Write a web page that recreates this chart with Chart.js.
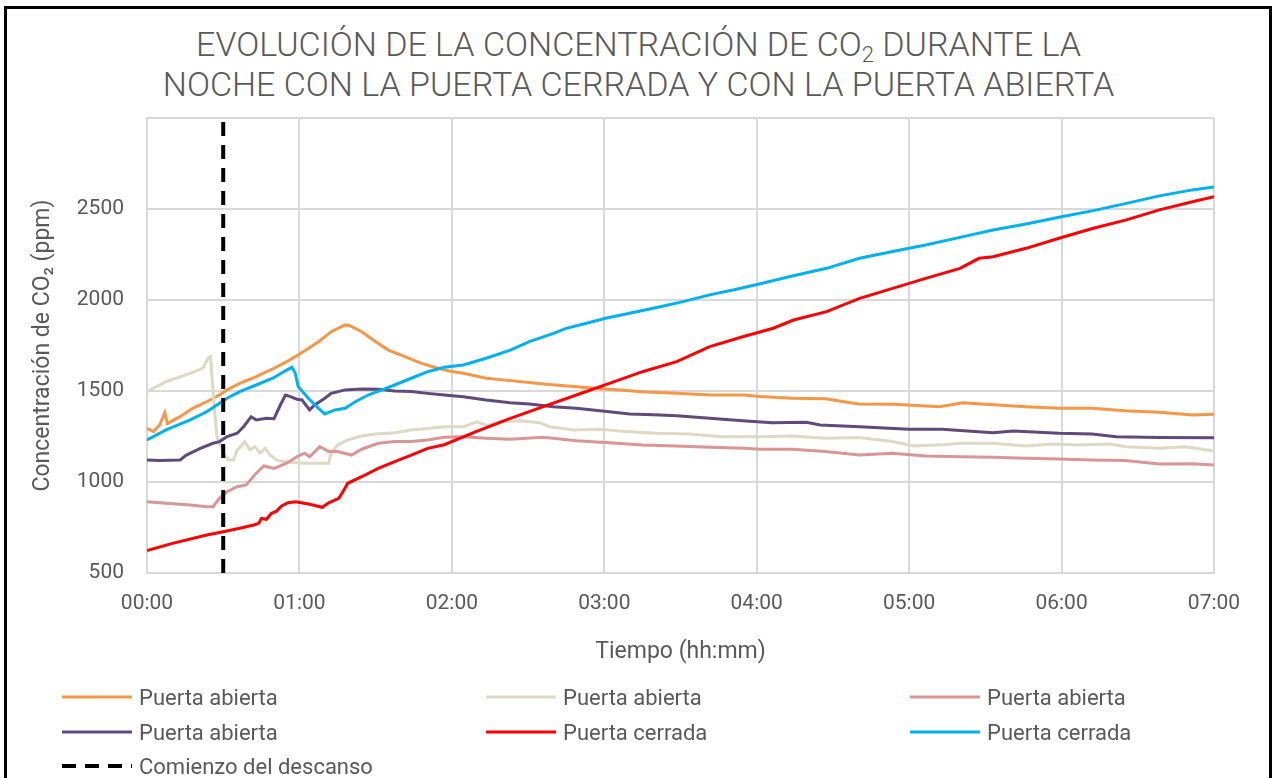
<!DOCTYPE html>
<html lang="es">
<head>
<meta charset="UTF-8">
<title>Evolución de la concentración de CO2</title>
<script src="https://cdn.jsdelivr.net/npm/chart.js"></script>
<style>
  body {
    margin: 0;
    width: 1277px;
    height: 778px;
    overflow: hidden;
    background: #fff;
    font-family: Roboto, 'Noto Sans', sans-serif;
    color: #595959;
    position: relative;
  }
  .frame {
    position: absolute;
    left: 4px;
    top: 6px;
    width: 1268px;
    height: 820px;
    border: 3px solid #000;
    box-sizing: border-box;
  }
  .title {
    position: absolute;
    left: 0;
    top: 24px;
    width: 1277px;
    text-align: center;
    font-size: 34px;
    font-weight: 300;
    line-height: 40px;
  }
  .title sub {
    font-size: 22px;
    line-height: 0;
    vertical-align: -6px;
  }
  .chart-box {
    position: absolute;
    left: 0;
    top: 0;
    width: 1277px;
    height: 680px;
  }
  #legend {
    position: absolute;
    left: 0;
    top: 0;
    width: 1277px;
    height: 778px;
    pointer-events: none;
  }
  .item {
    position: absolute;
    height: 30px;
    display: flex;
    align-items: center;
    font-size: 22px;
    white-space: nowrap;
  }
  .item svg { margin-right: 7px; }
</style>
</head>
<body>

<div class="frame"></div>
<div class="title">EVOLUCIÓN DE LA CONCENTRACIÓN DE CO<sub>2</sub> DURANTE LA<br>NOCHE CON LA PUERTA CERRADA Y CON LA PUERTA ABIERTA</div>
<div class="chart-box"><canvas id="co2Chart" width="1277" height="680"></canvas></div>
<div id="legend"></div>

<script>
  // tiempo en minutos desde las 00:00, concentración en ppm
  const tAbierta1 = [0, 2.5, 5, 7, 8, 13, 18, 23.5, 28.5, 31.5, 36.5, 43, 50, 55, 62, 67.5, 72.5, 78, 80, 84.5, 90, 95, 101.5, 108, 114.5, 119, 124.5, 133.5, 143, 156, 169, 182, 195, 208, 222, 235, 241, 254, 267, 280, 294, 312, 321, 333, 346, 359, 372, 385, 398.5, 411.5, 420];
  const co2Abierta1 = [1295, 1277, 1313, 1381, 1322, 1359, 1405, 1441, 1478, 1506, 1542, 1579, 1625, 1661, 1720, 1771, 1826, 1863, 1858, 1826, 1771, 1725, 1689, 1652, 1625, 1610, 1597, 1570, 1557, 1539, 1524, 1510, 1496, 1487, 1478, 1478, 1470, 1460, 1458, 1429, 1427, 1414, 1436, 1425, 1414, 1405, 1405, 1392, 1383, 1368, 1372];

  const tAbierta2 = [0, 7.5, 17, 22, 24, 25, 26.5, 27.5, 28.5, 30.5, 32, 34, 35.5, 36.5, 38.5, 40.5, 42.5, 44.5, 46.5, 48.5, 51, 53.5, 57.5, 62, 71.5, 72.5, 75, 79, 84.5, 90, 97.5, 104, 110.5, 117, 124.5, 130, 134, 139, 147, 154.5, 158.5, 168, 178, 188.5, 200, 213.5, 226.5, 241, 254, 267, 280, 293.5, 301.5, 313, 320, 333, 346, 356.5, 366, 379, 385.5, 398.5, 409, 420];
  const co2Abierta2 = [1496, 1551, 1597, 1625, 1680, 1690, 1414, 1249, 1216, 1148, 1121, 1121, 1176, 1190, 1221, 1176, 1194, 1158, 1185, 1148, 1121, 1112, 1107, 1103, 1103, 1158, 1203, 1231, 1253, 1264, 1271, 1286, 1294, 1304, 1304, 1331, 1310, 1331, 1337, 1326, 1304, 1286, 1290, 1277, 1268, 1264, 1249, 1249, 1253, 1240, 1245, 1222, 1198, 1204, 1213, 1213, 1198, 1209, 1203, 1209, 1194, 1185, 1194, 1170];

  const tAbierta3 = [0, 7.5, 17, 23.5, 26, 28.5, 31.5, 35.5, 39, 43, 46, 50, 55, 59, 62, 64, 68, 71.5, 75, 80.5, 84.5, 91, 97.5, 104, 110.5, 117, 124.5, 133.5, 143, 156, 169, 182, 195, 208, 222, 235, 241, 254, 267, 280.5, 293.5, 306.5, 320, 333, 346, 359, 372, 385, 398.5, 411.5, 420];
  const co2Abierta3 = [892, 883, 874, 864, 864, 910, 947, 974, 984, 1048, 1088, 1075, 1103, 1139, 1158, 1139, 1194, 1167, 1167, 1148, 1180, 1213, 1222, 1222, 1231, 1246, 1249, 1240, 1235, 1246, 1227, 1216, 1203, 1198, 1191, 1185, 1180, 1180, 1167, 1148, 1158, 1143, 1139, 1136, 1130, 1127, 1121, 1118, 1099, 1100, 1094];

  const tAbierta4 = [0, 5, 13, 15.5, 21, 26, 28.5, 31.5, 35.5, 38, 41, 43, 47, 50, 52.5, 54.5, 56.5, 59, 61, 64, 66, 70, 72.5, 78, 84.5, 91, 97.5, 104, 110.5, 117, 124.5, 133.5, 143, 150.5, 160, 169, 182, 190, 202, 208.5, 221.5, 234.5, 246, 259.5, 265, 280.5, 300, 313, 333, 341, 359, 372, 381.5, 398.5, 420];
  const co2Abierta4 = [1121, 1118, 1121, 1148, 1185, 1213, 1222, 1249, 1268, 1304, 1359, 1341, 1350, 1348, 1423, 1478, 1469, 1455, 1451, 1396, 1423, 1460, 1487, 1506, 1511, 1509, 1500, 1497, 1487, 1478, 1469, 1451, 1436, 1429, 1414, 1405, 1386, 1374, 1368, 1364, 1350, 1337, 1326, 1328, 1313, 1304, 1290, 1290, 1271, 1280, 1268, 1264, 1249, 1245, 1243];

  const tCerrada1 = [0, 10, 23.5, 30, 36.5, 42, 44, 45, 47, 49, 51, 53, 55.5, 58.5, 63.5, 69, 71.5, 75.5, 77.5, 79, 84.5, 91, 97.5, 104, 110.5, 117, 129.5, 143, 156, 169, 182, 195, 208.5, 221.5, 234.5, 246.5, 254.5, 267.5, 280.5, 293.5, 306.5, 320, 327.5, 333, 346, 359, 372.5, 385.5, 398.5, 411.5, 420];
  const co2Cerrada1 = [623, 663, 709, 727, 746, 764, 773, 800, 795, 828, 840, 868, 886, 892, 879, 861, 886, 910, 956, 993, 1029, 1075, 1112, 1148, 1185, 1205, 1277, 1350, 1414, 1478, 1542, 1606, 1661, 1744, 1798, 1845, 1890, 1936, 2009, 2064, 2119, 2174, 2229, 2238, 2284, 2339, 2394, 2440, 2495, 2540, 2568];

  const tCerrada2 = [0, 7.5, 17, 23.5, 28.5, 31.5, 36.5, 43, 49.5, 55, 57, 58.3, 59.5, 63.5, 67.5, 70, 74, 78, 82, 87, 92.5, 97.5, 104, 110.5, 117, 124.5, 133.5, 143, 150.5, 160, 165, 173, 180.5, 190, 202, 211, 221.5, 232, 241, 254, 267.5, 280.5, 293.5, 306.5, 320, 333, 346, 359, 372.5, 385.5, 398.5, 411.5, 420];
  const co2Cerrada2 = [1231, 1286, 1341, 1386, 1432, 1460, 1496, 1533, 1570, 1615, 1630, 1600, 1524, 1460, 1405, 1374, 1396, 1405, 1441, 1478, 1506, 1533, 1570, 1606, 1630, 1643, 1680, 1725, 1771, 1817, 1844, 1872, 1900, 1927, 1963, 1991, 2028, 2059, 2088, 2132, 2174, 2229, 2266, 2302, 2344, 2385, 2418, 2455, 2491, 2531, 2572, 2605, 2621];

  // comienzo del descanso (00:30)
  const tDescanso = [30, 30];
  const co2Descanso = [500, 3000];

  const xTicks = [0, 60, 120, 180, 240, 300, 360, 420];
  const yTicks = [500, 1000, 1500, 2000, 2500];

  function pts(t, v) {
    return t.map((x, i) => ({ x: x, y: v[i] }));
  }

  function hhmm(min) {
    const h = Math.floor(min / 60), m = Math.round(min % 60);
    return String(h).padStart(2, '0') + ':' + String(m).padStart(2, '0');
  }

  const series = [
    { label: 'Puerta abierta', data: pts(tAbierta1, co2Abierta1), color: '#F79646' },
    { label: 'Puerta abierta', data: pts(tAbierta2, co2Abierta2), color: '#DDD9C4' },
    { label: 'Puerta abierta', data: pts(tAbierta3, co2Abierta3), color: '#DA9694' },
    { label: 'Puerta abierta', data: pts(tAbierta4, co2Abierta4), color: '#604A7B' },
    { label: 'Puerta cerrada', data: pts(tCerrada1, co2Cerrada1), color: '#FF0000' },
    { label: 'Puerta cerrada', data: pts(tCerrada2, co2Cerrada2), color: '#00B0F0' },
    { label: 'Comienzo del descanso', data: pts(tDescanso, co2Descanso), color: '#000000', dash: [14, 9], width: 4 }
  ];

  const datasets = series.map((s, i) => ({
    label: s.label,
    data: s.data,
    borderColor: s.color,
    backgroundColor: s.color,
    borderWidth: s.width || 3,
    borderDash: s.dash || [],
    pointRadius: 0,
    tension: 0,
    fill: false,
    order: series.length - i   // como en Excel: la última serie queda encima
  }));

  const tickFont = { family: 'Roboto', size: 21 };
  const titleFont = { family: 'Roboto', size: 23 };

  const chart = new Chart(document.getElementById('co2Chart'), {
    type: 'line',
    data: { datasets: datasets },
    options: {
      responsive: false,
      animation: false,
      layout: { padding: { top: 118, left: 29, right: 63, bottom: 14 } },
      plugins: {
        legend: { display: false },
        tooltip: { enabled: false }
      },
      scales: {
        x: {
          type: 'linear',
          min: 0,
          max: 420,
          afterBuildTicks: s => { s.ticks = xTicks.map(v => ({ value: v })); },
          afterFit: s => { s.height = 93; },
          ticks: { callback: v => hhmm(v), color: '#595959', font: tickFont, padding: 18, maxRotation: 0 },
          grid: { color: '#D9D9D9', lineWidth: 2, drawTicks: false },
          border: { color: '#D9D9D9', width: 2 },
          title: { display: true, text: 'Tiempo (hh:mm)', color: '#595959', font: titleFont, padding: 0 }
        },
        y: {
          min: 500,
          max: 3000,
          afterBuildTicks: s => { s.ticks = yTicks.concat([3000]).map(v => ({ value: v })); },
          afterFit: s => { s.width = 118; },
          ticks: { callback: v => (v === 3000 ? '' : String(v)), color: '#595959', font: tickFont, padding: 23 },
          grid: { color: '#D9D9D9', lineWidth: 2, drawTicks: false },
          border: { color: '#D9D9D9', width: 2 },
          title: { display: true, text: 'Concentración de CO₂ (ppm)', color: '#595959', font: titleFont, padding: 0 }
        }
      }
    }
  });

  // leyenda en tres columnas, como en el original
  const legend = document.getElementById('legend');
  const colX = [62, 486, 910];
  const rowY = [682, 717, 751];
  chart.data.datasets.forEach((ds, i) => {
    const item = document.createElement('div');
    item.className = 'item';
    item.style.left = colX[i % 3] + 'px';
    item.style.top = rowY[Math.floor(i / 3)] + 'px';
    const dash = ds.borderDash.length ? ` stroke-dasharray="${ds.borderDash.join(',')}"` : '';
    item.innerHTML = `<svg width="70" height="10"><line x1="0" y1="5" x2="70" y2="5" stroke="${ds.borderColor}" stroke-width="${ds.borderWidth}"${dash}/></svg><span>${ds.label}</span>`;
    legend.appendChild(item);
  });
</script>

</body>
</html>
